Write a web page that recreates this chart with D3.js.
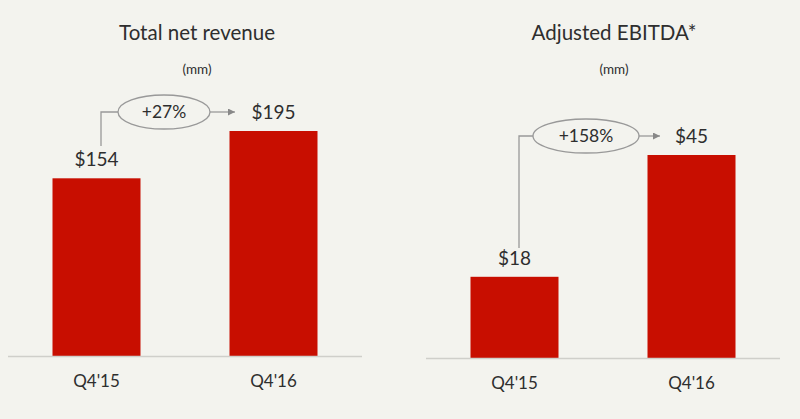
<!DOCTYPE html>
<html><head><meta charset="utf-8">
<script src="https://cdn.jsdelivr.net/npm/d3@7"></script>
<style>body{margin:0;background:#f3f3ee;}svg{display:block;font-family:Lato,"Open Sans",sans-serif;}</style>
</head><body><svg id="c" width="800" height="419"></svg>
<script>
const categories = ["Q4'15", "Q4'16"];
const revenueValues = [154, 195];
const ebitdaValues = [18, 45];
const valueLabelsRevenue = ["$154", "$195"];
const valueLabelsEbitda = ["$18", "$45"];
const growthLabels = ["+27%", "+158%"];
const titles = ["Total net revenue", "Adjusted EBITDA*"];
const units = ["(mm)", "(mm)"];

const svg = d3.select("#c");
svg.append("rect").attr("width",800).attr("height",419).attr("fill","#f3f3ee");
const defs = svg.append("defs");
defs.append("marker").attr("id","arr").attr("viewBox","0 0 10 10").attr("refX",10).attr("refY",5)
  .attr("markerWidth",7).attr("markerHeight",7).attr("markerUnits","userSpaceOnUse").attr("orient","auto")
  .append("path").attr("d","M0,0L10,5L0,10Z").attr("fill","#888");

const panels = [
  {values: revenueValues, labels: valueLabelsRevenue, title: titles[0], unit: units[0], growth: growthLabels[0],
   x0: 8, x1: 362, base: 356, top: 131, cx: 197,
   ell: {cx: 164, cy: 112, rx: 46, ry: 17}, vx: 101, vy0: 146, arrowEnd: 235},
  {values: ebitdaValues, labels: valueLabelsEbitda, title: titles[1], unit: units[1], growth: growthLabels[1],
   x0: 426, x1: 780, base: 358, top: 155, cx: 614,
   ell: {cx: 586, cy: 136, rx: 53, ry: 17}, vx: 519, vy0: 248, arrowEnd: 660}
];

panels.forEach(p => {
  const g = svg.append("g");
  const bw = 88;
  const x = d3.scalePoint().domain(categories).range([p.x0 + (p.x1 - p.x0) * 0.25, p.x0 + (p.x1 - p.x0) * 0.75]);
  const y = d3.scaleLinear().domain([0, d3.max(p.values)]).range([p.base, p.top]);

  g.append("text").attr("x", p.cx).attr("y", 40).attr("text-anchor","middle")
    .attr("font-size",20.5).attr("fill","#2e2e2e").text(p.title);
  g.append("text").attr("x", p.cx).attr("y", 74).attr("text-anchor","middle")
    .attr("font-size",13.5).attr("fill","#2e2e2e").text(p.unit);

  g.selectAll("rect.bar").data(categories).enter().append("rect")
    .attr("x", d => x(d) - bw/2).attr("width", bw)
    .attr("y", (d,i) => y(p.values[i])).attr("height", (d,i) => p.base - y(p.values[i]))
    .attr("fill","#c80e00");

  g.append("line").attr("x1",p.x0).attr("x2",p.x1).attr("y1",p.base+0.5).attr("y2",p.base+0.5)
    .attr("stroke","#cfcfca").attr("stroke-width",1.5);

  g.selectAll("text.val").data(categories).enter().append("text")
    .attr("x", d => x(d)).attr("y", (d,i) => y(p.values[i]) - 12)
    .attr("text-anchor","middle").attr("font-size",19).attr("fill","#2e2e2e")
    .text((d,i) => p.labels[i]);

  g.selectAll("text.cat").data(categories).enter().append("text")
    .attr("x", d => x(d)).attr("y", p.base + 31)
    .attr("text-anchor","middle").attr("font-size",17).attr("fill","#2e2e2e").text(d => d);

  // annotation
  g.append("path").attr("d", `M${p.vx},${p.vy0}V${p.ell.cy}H${p.ell.cx - p.ell.rx}`)
    .attr("fill","none").attr("stroke","#999").attr("stroke-width",1.3);
  g.append("ellipse").attr("cx",p.ell.cx).attr("cy",p.ell.cy).attr("rx",p.ell.rx).attr("ry",p.ell.ry)
    .attr("fill","none").attr("stroke","#999").attr("stroke-width",1.3);
  g.append("line").attr("x1",p.ell.cx + p.ell.rx).attr("x2",p.arrowEnd).attr("y1",p.ell.cy).attr("y2",p.ell.cy)
    .attr("stroke","#999").attr("stroke-width",1.3).attr("marker-end","url(#arr)");
  g.append("text").attr("x",p.ell.cx).attr("y",p.ell.cy + 6).attr("text-anchor","middle")
    .attr("font-size",17.5).attr("fill","#2e2e2e").text(p.growth);
});
</script></body></html>
